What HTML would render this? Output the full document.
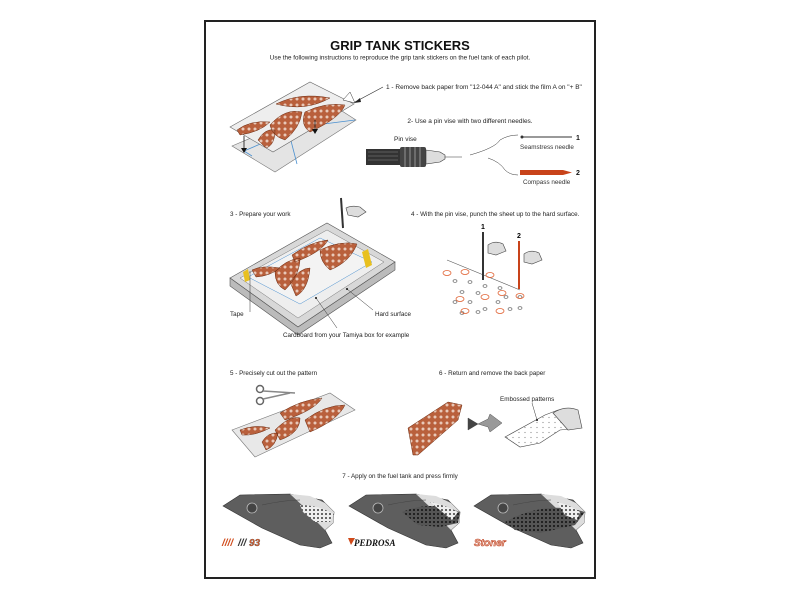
<!DOCTYPE html>
<html><head><meta charset="utf-8"><style>
html,body{margin:0;padding:0;background:#fff;}
svg{display:block;font-family:"Liberation Sans",sans-serif;}
</style></head><body>
<svg width="800" height="600" viewBox="0 0 800 600" xmlns="http://www.w3.org/2000/svg">
<defs>
<pattern id="grid" width="6" height="6" patternUnits="userSpaceOnUse">
<rect width="6" height="6" fill="#b9603c"/><circle cx="3" cy="3" r="1.5" fill="#e8c8b8"/>
</pattern>
<pattern id="net" width="4" height="4" patternUnits="userSpaceOnUse">
<rect width="4" height="4" fill="#555"/><rect x="1" y="1" width="2" height="2" fill="#222"/>
</pattern>
<pattern id="wnet" width="4" height="4" patternUnits="userSpaceOnUse">
<rect width="4" height="4" fill="#eee"/><rect x="1" y="1" width="2" height="2" fill="#666"/>
</pattern>
<pattern id="dots" width="6" height="5" patternUnits="userSpaceOnUse">
<rect width="6" height="5" fill="#fff"/><circle cx="3" cy="2.5" r="0.6" fill="#888"/>
</pattern>
<g id="tank">
<path d="M223,506 L240,495 L290,494 L322,500 L334,512 L333,523 L325,530 L332,543 L320,548 L300,545 L262,528 Z" fill="#5e5e5e" stroke="#333" stroke-width="0.6"/>
<path d="M290,494 L310,496 L325,503 L334,512 L333,523 L325,530 L315,520 L305,508 Z" fill="#ddd"/>
<circle cx="252" cy="508" r="5" fill="#444" stroke="#bbb" stroke-width="0.8"/>
<path d="M262,505 Q285,500 300,500" fill="none" stroke="#444" stroke-width="0.6"/>
</g>
</defs>
<rect x="205" y="21" width="390" height="557" fill="#fff" stroke="#222" stroke-width="2"/>
<text x="400" y="50" font-size="13" font-weight="bold" text-anchor="middle" fill="#111">GRIP TANK STICKERS</text>
<text x="400" y="59.5" font-size="6.3" text-anchor="middle" fill="#222">Use the following instructions to reproduce the grip tank stickers on the fuel tank of each pilot.</text>

<!-- step 1 -->
<path d="M232,146 L331,104 L356,120 L275,172 Z" fill="#e4e4e4" stroke="#777" stroke-width="0.6"/>
<path d="M244,151 L300,127 M300,127 L355,120 M290,137 L297,164 M244,151 L252,156" stroke="#4a90d0" stroke-width="0.8" fill="none"/>
<path d="M230,127 L310,82 L354,104 L273,152 Z" fill="#eee" stroke="#666" stroke-width="0.6"/>
<path d="M276,104 Q300,92 330,98 Q305,112 276,104 Z M305,112 Q325,102 345,105 Q340,118 310,132 Q300,125 305,112Z M270,125 Q285,108 302,112 Q300,128 285,140 Q272,136 270,125Z M237,130 Q250,120 270,122 Q260,132 240,135Z M258,140 Q265,128 275,130 Q275,145 266,148Z" fill="url(#grid)" stroke="#6a2a10" stroke-width="0.5"/>
<path d="M244,136 L244,150 M315,120 L315,131" stroke="#111" stroke-width="0.8"/>
<path d="M241,148 L244,153 L247,148Z M312,129 L315,134 L318,129Z" fill="#111"/>
<path d="M343,100 L350,92 L355,103Z" fill="#fff" stroke="#333" stroke-width="0.5"/>
<path d="M383,87 L355,102" stroke="#222" stroke-width="0.6"/><path d="M354,103 L360,98 L361,102Z" fill="#222"/>
<text x="386" y="89" font-size="6.5" fill="#222">1 - Remove back paper from "12-044 A" and stick the film A on "+ B"</text>

<!-- step 2 -->
<text x="470" y="123" font-size="6.5" text-anchor="middle" fill="#222">2- Use a pin vise with two different needles.</text>
<text x="394" y="141" font-size="6.5" fill="#222">Pin vise</text>
<rect x="366" y="149" width="34" height="16" fill="#333"/>
<path d="M368,152 H398 M368,156 H398 M368,160 H398" stroke="#888" stroke-width="0.6"/>
<rect x="400" y="147" width="26" height="20" rx="2" fill="#444"/>
<path d="M405,147 V167 M410,147 V167 M415,147 V167 M420,147 V167" stroke="#aaa" stroke-width="0.8"/>
<path d="M426,150 L440,152 L445,155 L445,159 L440,162 L426,164Z" fill="#ddd" stroke="#333" stroke-width="0.6"/>
<path d="M445,157 L462,157" stroke="#333" stroke-width="0.6"/>
<path d="M470,155 Q495,148 500,140 Q508,135 518,135" fill="none" stroke="#333" stroke-width="0.5"/>
<path d="M488,158 Q500,162 505,170 Q510,175 518,175" fill="none" stroke="#333" stroke-width="0.5"/>
<circle cx="522" cy="137" r="1.5" fill="#333"/>
<path d="M522,137 L572,137" stroke="#333" stroke-width="1"/>
<text x="576" y="140" font-size="7" font-weight="bold" fill="#111">1</text>
<text x="520" y="149" font-size="6.3" fill="#333">Seamstress needle</text>
<path d="M520,170 L563,170 L572,172.5 L563,175 L520,175Z" fill="#c8431a"/>
<text x="576" y="175" font-size="7" font-weight="bold" fill="#111">2</text>
<text x="523" y="184" font-size="6.3" fill="#333">Compass needle</text>

<!-- step 3 -->
<text x="230" y="216" font-size="6.3" fill="#222">3 - Prepare your work</text>
<path d="M230,278 L327,223 L395,262 L298,327Z" fill="#d8d8d8" stroke="#555" stroke-width="0.6"/>
<path d="M230,278 L230,286 L298,335 L395,270 L395,262 L298,327Z" fill="#bbb" stroke="#555" stroke-width="0.6"/>
<path d="M240,278 L327,230 L384,262 L298,318Z" fill="#eee" stroke="#777" stroke-width="0.5"/>
<path d="M248,277 L320,238 L372,262 L300,304Z" fill="#f3f3f3" stroke="#4a90d0" stroke-width="0.5"/>
<path d="M292,255 Q310,242 328,240 Q322,252 295,262Z M320,250 Q340,240 357,244 Q350,262 330,270 Q320,262 320,250Z M275,272 Q285,260 300,258 Q300,275 285,290 Q275,285 275,272Z M252,270 Q262,265 280,268 Q270,276 256,277Z M290,282 Q300,268 310,268 Q308,290 296,296Z" fill="url(#grid)" stroke="#6a2a10" stroke-width="0.5"/>
<path d="M243,272 L248,269 L250,280 L245,282Z M362,252 L368,249 L372,265 L366,268Z" fill="#e8c020"/>
<path d="M341,198 L343,228" stroke="#333" stroke-width="2"/>
<path d="M346,208 Q352,205 360,207 L366,212 L358,217 L348,215Z" fill="#ddd" stroke="#444" stroke-width="0.6"/>
<path d="M250,271 L250,312" stroke="#333" stroke-width="0.5"/>
<text x="230" y="316" font-size="6.3" fill="#222">Tape</text>
<path d="M347,289 L373,310" stroke="#333" stroke-width="0.5"/><circle cx="347" cy="289" r="1" fill="#111"/>
<text x="375" y="316" font-size="6.3" fill="#222">Hard surface</text>
<path d="M316,298 L337,328" stroke="#333" stroke-width="0.5"/><circle cx="316" cy="298" r="1" fill="#111"/>
<text x="283" y="337" font-size="6.3" fill="#222">Cardboard from your Tamiya box for example</text>

<!-- step 4 -->
<text x="411" y="216" font-size="6.3" fill="#222">4 - With the pin vise, punch the sheet up to the hard surface.</text>
<text x="483" y="229" font-size="7" font-weight="bold" text-anchor="middle">1</text>
<text x="519" y="238" font-size="7" font-weight="bold" text-anchor="middle">2</text>
<path d="M447,260 L520,290" stroke="#555" stroke-width="0.6"/>
<g fill="none" stroke="#555" stroke-width="0.6">
<ellipse cx="455" cy="281" rx="2" ry="1.3"/><ellipse cx="470" cy="282" rx="2" ry="1.3"/><ellipse cx="485" cy="286" rx="2" ry="1.3"/><ellipse cx="500" cy="288" rx="2" ry="1.3"/>
<ellipse cx="462" cy="292" rx="2" ry="1.3"/><ellipse cx="478" cy="293" rx="2" ry="1.3"/><ellipse cx="506" cy="297" rx="2" ry="1.3"/><ellipse cx="520" cy="297" rx="2" ry="1.3"/>
<ellipse cx="455" cy="302" rx="2" ry="1.3"/><ellipse cx="470" cy="302" rx="2" ry="1.3"/><ellipse cx="498" cy="302" rx="2" ry="1.3"/><ellipse cx="485" cy="309" rx="2" ry="1.3"/><ellipse cx="510" cy="309" rx="2" ry="1.3"/><ellipse cx="520" cy="308" rx="2" ry="1.3"/>
<ellipse cx="462" cy="313" rx="2" ry="1.3"/><ellipse cx="478" cy="312" rx="2" ry="1.3"/>
</g>
<g fill="none" stroke="#e06030" stroke-width="0.8">
<ellipse cx="465" cy="272" rx="4" ry="2.5"/><ellipse cx="490" cy="275" rx="4" ry="2.5"/><ellipse cx="460" cy="299" rx="4" ry="2.5"/><ellipse cx="485" cy="297" rx="4" ry="2.5"/><ellipse cx="502" cy="293" rx="4" ry="2.5"/><ellipse cx="520" cy="296" rx="4" ry="2.5"/><ellipse cx="465" cy="311" rx="4" ry="2.5"/><ellipse cx="500" cy="311" rx="4" ry="2.5"/><ellipse cx="447" cy="273" rx="4" ry="2.5"/>
</g>
<path d="M483,232 L483,280" stroke="#333" stroke-width="2"/>
<path d="M488,245 Q495,240 503,244 L506,251 L496,255 L488,253Z" fill="#ddd" stroke="#444" stroke-width="0.6"/>
<path d="M519,241 L519,289" stroke="#c8431a" stroke-width="2"/>
<path d="M524,254 Q531,249 539,253 L542,260 L532,264 L524,262Z" fill="#ddd" stroke="#444" stroke-width="0.6"/>

<!-- step 5 -->
<text x="230" y="375" font-size="6.3" fill="#222">5 - Precisely cut out the pattern</text>
<path d="M232,430 L330,393 L355,410 L255,457Z" fill="#e8e8e8" stroke="#777" stroke-width="0.6"/>
<path d="M280,413 Q300,400 322,398 Q315,410 285,420Z M305,420 Q325,405 345,405 Q338,420 310,432Z M275,430 Q290,415 300,418 Q300,433 280,440Z M240,430 Q255,424 270,428 Q255,436 242,435Z M262,442 Q268,432 278,433 Q276,446 266,450Z" fill="url(#grid)" stroke="#6a2a10" stroke-width="0.5"/>
<circle cx="260" cy="389" r="3.5" fill="none" stroke="#666" stroke-width="1.5"/>
<circle cx="260" cy="401" r="3.5" fill="none" stroke="#666" stroke-width="1.5"/>
<path d="M263,391 L295,393 M263,399 L290,393" stroke="#888" stroke-width="1.5"/>

<!-- step 6 -->
<text x="439" y="375" font-size="6.3" fill="#222">6 - Return and remove the back paper</text>
<path d="M408,428 L448,402 L462,405 L458,420 L418,455 L413,455Z" fill="url(#grid)" stroke="#6a2a10" stroke-width="0.5"/>
<path d="M468,418 L478,424 L488,419 L490,414 L502,423 L490,432 L488,427 L478,424 L468,430Z" fill="#999" stroke="#555" stroke-width="0.5"/>
<path d="M468,418 L478,424 L468,430Z" fill="#444"/>
<path d="M505,437 L545,415 L558,410 L575,412 L580,428 L560,430 L540,443 L520,447Z" fill="url(#dots)" stroke="#444" stroke-width="0.6"/>
<path d="M553,413 Q565,405 578,410 L582,428 L568,430 Z" fill="#ddd" stroke="#444" stroke-width="0.6"/>
<text x="500" y="401" font-size="6.3" fill="#222">Embossed patterns</text>
<path d="M532,403 L537,420" stroke="#333" stroke-width="0.5"/><circle cx="537" cy="420" r="1" fill="#111"/>

<!-- step 7 -->
<text x="400" y="478" font-size="6.3" text-anchor="middle" fill="#222">7 - Apply on the fuel tank and press firmly</text>
<use href="#tank"/>
<path d="M300,505 Q318,505 334,514 L330,522 L315,522 L303,512Z" fill="url(#wnet)"/>
<use href="#tank" transform="translate(126,0)"/>
<path d="M402,512 Q430,500 460,512 L458,523 L440,527 L418,525Z" fill="url(#net)"/>
<path d="M430,502 Q445,505 458,512 L452,520 L440,510Z" fill="url(#wnet)"/>
<use href="#tank" transform="translate(251,0)"/>
<path d="M505,522 Q545,500 585,512 L575,525 L540,533 L515,530Z" fill="url(#net)"/>
<path d="M557,502 Q570,505 580,512 L577,520 L565,515Z" fill="url(#wnet)"/>
<text x="222" y="546" font-size="10" font-weight="bold" font-style="italic" fill="#d04a1a">////</text>
<text x="238" y="546" font-size="10" font-weight="bold" font-style="italic" fill="#333">///</text>
<text x="249" y="546" font-size="10" font-weight="bold" font-style="italic" fill="#e06030" stroke="#333" stroke-width="0.3">93</text>
<path d="M348,538 L355,538 L351,545Z" fill="#d04a1a"/>
<text x="354" y="546" font-size="9" font-weight="bold" font-style="italic" font-family="Liberation Serif,serif" fill="#111">PEDROSA</text>
<text x="474" y="546" font-size="10" font-weight="bold" font-style="italic" fill="#f0d0c0" stroke="#c04020" stroke-width="0.6">Stoner</text>
</svg>
</body></html>
